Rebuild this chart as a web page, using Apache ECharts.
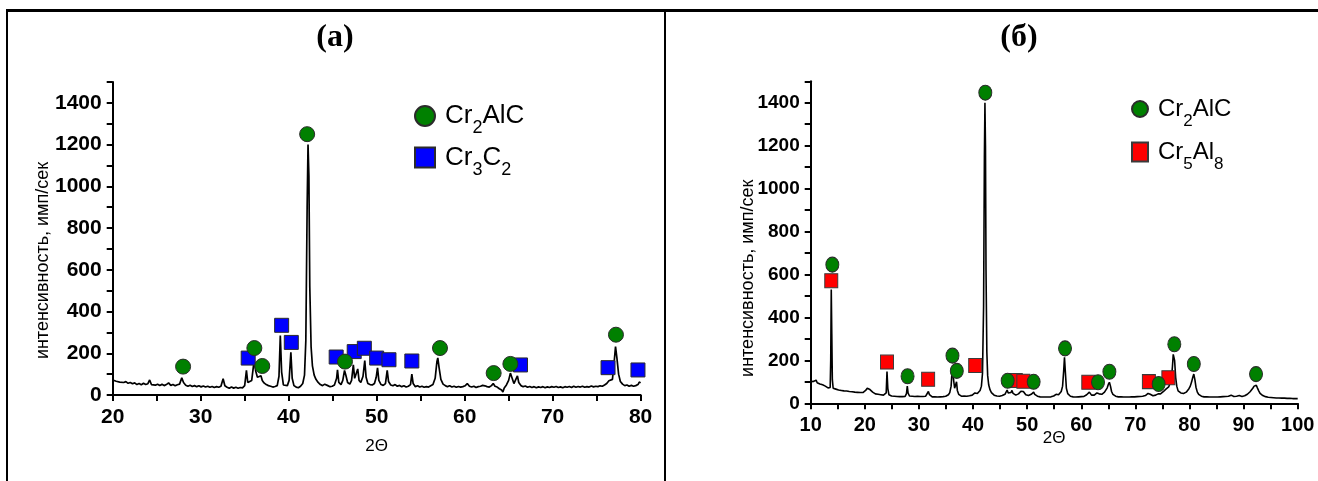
<!DOCTYPE html>
<html>
<head>
<meta charset="utf-8">
<script src="https://cdn.jsdelivr.net/npm/echarts@6/dist/echarts.min.js"></script>
<style>
  html, body { margin: 0; padding: 0; background: #fff; }
  #chart { width: 1318px; height: 481px; }
</style>
</head>
<body>
<div id="chart"></div>
<script>
// диффрактограмма (а): 2θ, интенсивность
const scanA = [
  [20.0,72],[20.2,80],[20.4,66],[20.6,74],[20.8,62],[21.0,68],[21.25,60],[21.5,64],[21.75,56],[22.0,60],
  [22.25,54],[22.5,58],[22.75,50],[23.0,55],[23.25,49],[23.5,56],[23.75,50],[24.0,54],[24.2,72],[24.4,50],
  [24.6,55],[24.85,47],[25.1,52],[25.35,46],[25.6,51],[25.85,45],[26.1,50],[26.35,58],[26.6,46],[26.85,50],
  [27.1,44],[27.35,49],[27.6,52],[27.85,82],[28.05,60],[28.3,47],[28.55,42],[28.8,47],[29.05,41],[29.3,45],
  [29.55,40],[29.8,44],[30.05,39],[30.3,43],[30.55,38],[30.8,42],[31.05,37],[31.3,41],[31.55,36],[31.8,40],
  [32.05,37],[32.3,42],[32.55,78],[32.75,44],[33.0,37],[33.25,32],[33.5,38],[33.75,33],[34.0,37],[34.25,32],
  [34.5,36],[34.75,34],[35.0,45],[35.2,118],[35.35,60],[35.55,52],[35.8,70],[36.0,140],[36.1,160],[36.25,115],
  [36.45,85],[36.65,78],[36.85,92],[37.0,70],[37.2,58],[37.45,50],[37.7,45],[37.95,42],[38.2,38],[38.45,41],
  [38.7,45],[38.9,90],[39.05,285],[39.2,110],[39.4,48],[39.6,40],[39.85,45],[40.05,70],[40.25,205],[40.4,80],
  [40.6,45],[40.85,38],[41.1,35],[41.35,42],[41.6,55],[41.8,95],[41.95,260],[42.1,900],[42.2,1200],[42.3,1050],
  [42.4,520],[42.55,230],[42.7,140],[42.9,95],[43.1,75],[43.35,60],[43.6,50],[43.85,45],[44.1,52],[44.25,60],
  [44.45,45],[44.7,40],[44.95,42],[45.2,48],[45.45,80],[45.55,120],[45.7,60],[45.95,50],[46.15,70],[46.35,118],
  [46.5,95],[46.7,60],[46.95,52],[47.15,70],[47.35,145],[47.5,80],[47.7,75],[47.85,125],[48.0,70],[48.2,60],
  [48.45,90],[48.65,165],[48.8,85],[49.0,55],[49.25,50],[49.5,48],[49.75,55],[49.95,85],[50.1,130],[50.25,70],
  [50.5,50],[50.75,46],[51.0,55],[51.2,118],[51.35,65],[51.6,48],[51.85,44],[52.1,50],[52.35,42],[52.6,46],
  [52.85,40],[53.1,44],[53.35,38],[53.6,42],[53.85,50],[54.0,100],[54.15,55],[54.4,40],[54.65,44],[54.9,38],
  [55.15,42],[55.4,37],[55.65,40],[55.9,38],[56.15,44],[56.4,50],[56.65,80],[56.85,160],[56.95,178],[57.1,130],
  [57.3,75],[57.55,52],[57.8,45],[58.05,40],[58.3,44],[58.55,38],[58.8,42],[59.05,37],[59.3,41],[59.55,38],
  [59.8,40],[60.05,44],[60.3,55],[60.55,42],[60.8,38],[61.05,42],[61.3,36],[61.55,40],[61.8,42],[62.05,46],
  [62.3,44],[62.55,40],[62.8,38],[63.05,45],[63.25,55],[63.45,42],[63.7,38],[63.95,30],[64.2,24],[64.35,14],
  [64.5,34],[64.75,48],[65.0,70],[65.2,105],[65.4,80],[65.6,55],[65.8,62],[66.0,92],[66.15,60],[66.4,45],
  [66.65,40],[66.9,43],[67.15,37],[67.4,41],[67.65,36],[67.9,40],[68.15,35],[68.4,39],[68.65,36],[68.9,40],
  [69.15,35],[69.4,39],[69.65,36],[69.9,40],[70.15,37],[70.4,41],[70.65,36],[70.9,39],[71.15,35],[71.4,40],
  [71.65,37],[71.9,41],[72.15,36],[72.4,42],[72.65,37],[72.9,41],[73.15,38],[73.4,42],[73.65,37],[73.9,40],
  [74.15,38],[74.4,43],[74.65,39],[74.9,42],[75.15,40],[75.4,44],[75.65,42],[75.9,48],[76.15,55],[76.4,68],
  [76.6,60],[76.8,75],[77.0,160],[77.15,232],[77.3,180],[77.5,100],[77.7,65],[77.95,52],[78.2,45],[78.45,48],
  [78.7,42],[78.95,46],[79.2,42],[79.45,45],[79.7,50],[79.85,62],[80.0,58]
]
// метки фаз (а)
const cr2alcA = [[28.0,136],[36.1,225],[37.0,139],[42.1,1250],[46.4,160],[57.2,225],[63.3,105],[65.2,149],[77.2,289]]
const cr3c2A = [[35.4,177],[39.2,334],[40.3,252],[45.4,182],[47.45,208],[48.6,224],[50.0,177],[51.4,169],[54.0,163],[66.35,144],[76.3,131],[79.7,120]]

// диффрактограмма (б)
const scanB = [
  [10.0,100],[10.25,96],[10.5,102],[10.75,98],[11.0,108],[11.2,96],[11.45,94],[11.7,90],[11.95,92],[12.2,86],
  [12.45,84],[12.7,80],[12.95,76],[13.2,72],[13.45,70],[13.6,74],[13.7,200],[13.8,530],[13.9,320],[14.0,110],
  [14.15,70],[14.4,62],[14.65,66],[14.9,60],[15.15,62],[15.4,58],[15.65,60],[15.9,56],[16.15,58],[16.4,54],
  [16.65,57],[16.9,53],[17.15,55],[17.4,52],[17.65,54],[17.9,50],[18.15,52],[18.4,49],[18.65,51],[18.9,48],
  [19.15,50],[19.4,47],[19.65,50],[19.9,54],[20.15,60],[20.45,70],[20.7,74],[20.95,64],[21.2,56],[21.45,52],
  [21.7,46],[21.95,44],[22.2,40],[22.45,42],[22.7,38],[22.95,40],[23.2,36],[23.45,38],[23.7,36],[23.95,48],
  [24.1,148],[24.25,70],[24.45,40],[24.7,36],[24.95,34],[25.2,36],[25.45,33],[25.7,35],[25.95,32],[26.2,34],
  [26.45,31],[26.7,33],[26.95,31],[27.2,34],[27.45,32],[27.7,45],[27.85,80],[28.0,48],[28.25,34],[28.5,31],
  [28.75,33],[29.0,30],[29.25,32],[29.5,30],[29.75,33],[30.0,30],[30.25,32],[30.5,29],[30.75,32],[31.0,30],
  [31.25,33],[31.5,36],[31.75,55],[31.95,40],[32.2,32],[32.45,30],[32.7,33],[32.95,30],[33.2,32],[33.45,29],
  [33.7,32],[33.95,30],[34.2,33],[34.45,31],[34.7,34],[34.95,33],[35.2,36],[35.45,40],[35.7,50],[35.95,80],
  [36.1,140],[36.25,160],[36.4,110],[36.6,70],[36.8,75],[36.95,100],[37.1,60],[37.35,42],[37.6,36],[37.85,33],
  [38.1,32],[38.35,34],[38.6,31],[38.85,33],[39.1,32],[39.35,35],[39.6,34],[39.85,38],[40.1,42],[40.35,48],
  [40.55,52],[40.8,46],[41.05,50],[41.3,60],[41.55,80],[41.75,140],[41.95,450],[42.1,1150],[42.2,1400],[42.3,1200],
  [42.4,620],[42.55,240],[42.7,130],[42.9,85],[43.15,62],[43.4,50],[43.65,43],[43.9,38],[44.15,36],[44.4,34],
  [44.65,35],[44.9,33],[45.15,34],[45.4,36],[45.65,38],[45.9,42],[46.1,50],[46.3,62],[46.5,48],[46.75,44],
  [47.0,50],[47.2,60],[47.4,46],[47.65,40],[47.9,38],[48.15,40],[48.4,44],[48.65,52],[48.85,56],[49.05,48],
  [49.3,55],[49.5,46],[49.75,40],[50.0,37],[50.25,36],[50.5,38],[50.75,42],[51.0,46],[51.2,52],[51.4,42],
  [51.65,36],[51.9,33],[52.15,31],[52.4,30],[52.65,31],[52.9,29],[53.15,31],[53.4,29],[53.65,30],[53.9,29],
  [54.15,31],[54.4,30],[54.65,32],[54.9,34],[55.15,38],[55.35,42],[55.55,36],[55.8,40],[56.05,45],[56.3,55],
  [56.55,80],[56.75,150],[56.9,214],[57.05,150],[57.25,70],[57.5,45],[57.75,37],[58.0,33],[58.25,31],[58.5,30],
  [58.75,31],[59.0,29],[59.25,31],[59.5,30],[59.75,32],[60.0,31],[60.25,33],[60.5,32],[60.75,36],[61.0,40],
  [61.25,44],[61.5,52],[61.7,45],[61.9,38],[62.15,36],[62.4,38],[62.65,42],[62.9,48],[63.1,54],[63.3,44],
  [63.55,40],[63.8,42],[64.05,46],[64.3,52],[64.55,60],[64.8,72],[65.0,88],[65.2,98],[65.4,80],[65.6,55],
  [65.85,42],[66.1,36],[66.35,33],[66.6,31],[66.85,30],[67.1,29],[67.35,30],[67.6,28],[67.85,29],[68.1,28],
  [68.35,29],[68.6,27],[68.85,29],[69.1,28],[69.35,30],[69.6,28],[69.85,30],[70.1,29],[70.35,31],[70.6,30],
  [70.85,32],[71.1,31],[71.35,33],[71.6,32],[71.85,36],[72.1,40],[72.35,46],[72.55,50],[72.75,42],[73.0,36],
  [73.25,35],[73.5,36],[73.75,38],[74.0,42],[74.2,44],[74.4,40],[74.65,44],[74.9,48],[75.15,54],[75.4,60],
  [75.65,66],[75.9,72],[76.15,76],[76.4,85],[76.65,110],[76.85,170],[77.0,228],[77.1,236],[77.25,200],[77.45,120],
  [77.65,80],[77.9,58],[78.15,50],[78.4,48],[78.65,44],[78.9,46],[79.15,48],[79.4,52],[79.65,58],[79.9,68],
  [80.15,80],[80.4,100],[80.6,120],[80.8,136],[81.0,110],[81.2,75],[81.45,52],[81.7,42],[81.95,36],[82.2,33],
  [82.45,31],[82.7,30],[82.95,29],[83.2,30],[83.45,28],[83.7,29],[83.95,27],[84.2,29],[84.45,28],[84.7,29],
  [84.95,27],[85.2,29],[85.45,28],[85.7,30],[85.95,29],[86.2,31],[86.45,30],[86.7,32],[86.95,31],[87.2,33],
  [87.45,36],[87.7,38],[87.95,35],[88.2,32],[88.45,31],[88.7,33],[88.95,32],[89.2,36],[89.45,34],[89.7,32],
  [89.95,33],[90.2,35],[90.45,38],[90.7,42],[90.95,48],[91.2,54],[91.45,62],[91.7,70],[91.95,80],[92.15,86],
  [92.35,84],[92.55,72],[92.8,58],[93.05,46],[93.3,40],[93.55,36],[93.8,33],[94.05,31],[94.3,30],[94.55,28],
  [94.8,29],[95.05,27],[95.3,28],[95.55,26],[95.8,27],[96.05,25],[96.3,27],[96.55,25],[96.8,26],[97.05,24],
  [97.3,26],[97.55,24],[97.8,25],[98.05,23],[98.3,25],[98.55,23],[98.8,24],[99.05,22],[99.3,24],[99.55,22],
  [99.8,23],[100.0,22]
]
const cr2alcB = [[14.0,646],[27.9,126],[36.2,222],[37.0,151],[42.27,1447],[46.4,105],[51.2,100],[57.0,256],[63.1,98],[65.2,147],[74.3,90],[77.2,275],[80.8,183],[92.3,136]]
const cr5al8B = [[13.8,571],[24.1,192],[31.7,112],[40.4,176],[47.9,106],[49.3,103],[61.3,98],[72.5,101],[76.1,119]]

const yTicks = [0, 200, 400, 600, 800, 1000, 1200, 1400]

const fontA = '"Liberation Sans", Arial, sans-serif'
const ellipse = 'path://M0,10a10,10 0 1,0 20,0a10,10 0 1,0 -20,0z'

const legendText = {
  circA: '{p|Cr}{s|2}{n|AlC}',
  sqA: '{p|Cr}{s|3}{n|C}{s|2}',
  circB: '{p|Cr}{s|2}{n|AlC}',
  sqB: '{p|Cr}{s|5}{n|Al}{s|8}',
}

let chart = echarts.init(document.getElementById('chart'), null, { renderer: 'canvas' })

function makeX(idx, min, max, size, margin, gap) {
  return {
    type: 'value', gridIndex: idx, min: min, max: max, interval: 5,
    axisLine: { onZero: false, lineStyle: { color: '#000', width: 2 } },
    axisTick: { length: 6, lineStyle: { color: '#000', width: 2 } },
    splitLine: { show: false },
    axisLabel: {
      color: '#000', fontFamily: fontA, fontWeight: 'bold', fontSize: size, margin: margin,
      formatter: (v) => (v % 10 === 0 ? String(v) : ''),
    },
    name: '2Θ', nameLocation: 'middle', nameGap: gap, nameMoveOverlap: false,
    nameTextStyle: { color: '#000', fontFamily: fontA, fontSize: 17 },
  }
}
function makeY(idx, size, nameGap, shift) {
  return {
    type: 'value', gridIndex: idx, min: 0, max: 1500, interval: 100,
    axisLine: { show: true, onZero: false, lineStyle: { color: '#000', width: 2 } },
    axisTick: { show: true, length: 6, lineStyle: { color: '#000', width: 2 } },
    splitLine: { show: false },
    axisLabel: {
      color: '#000', fontFamily: fontA, fontWeight: 'bold', fontSize: size, margin: 11,
      formatter: (v) => (yTicks.indexOf(v) >= 0 ? String(v) : ''),
    },
    name: 'интенсивность, имп/сек', nameLocation: 'middle', nameRotate: 90, nameGap: nameGap,
    nameMoveOverlap: false,
    nameTextStyle: { color: '#000', fontFamily: fontA, fontSize: 18, padding: [0, shift, 0, 0] },
  }
}
function richFor(big, small, drop) {
  return {
    p: { fontFamily: fontA, fontSize: big, color: '#000', padding: [0, 0, 0, 5] },
    n: { fontFamily: fontA, fontSize: big, color: '#000' },
    s: { fontFamily: fontA, fontSize: small, color: '#000', padding: [drop, 0, 0, 0] },
  }
}

const option = {
  animation: false,
  backgroundColor: '#fff',
  grid: [
    { left: 112.7, right: 677.4, top: 82, bottom: 86 },
    { left: 810.7, right: 20.3, top: 81.3, bottom: 77.7 },
  ],
  xAxis: [makeX(0, 20, 80, 21, 12, 43), makeX(1, 10, 100, 20, 12, 27)],
  yAxis: [makeY(0, 21, 61, 44), makeY(1, 19, 54, 72)],
  legend: [
    {
      orient: 'vertical', left: 414, top: 103, padding: 0, itemWidth: 20, itemHeight: 20, itemGap: 7,
      selectedMode: false, data: ['circA', 'sqA'],
      formatter: (n) => legendText[n],
      textStyle: { rich: richFor(26, 18, 25) },
    },
    {
      orient: 'vertical', left: 1131, top: 97, padding: 0, itemWidth: 16, itemHeight: 19, itemGap: 10,
      selectedMode: false, data: ['circB', 'sqB'],
      formatter: (n) => legendText[n],
      textStyle: { rich: richFor(24, 17, 25) },
    },
  ],
  series: [
    {
      type: 'line', xAxisIndex: 0, yAxisIndex: 0, data: scanA, showSymbol: false, silent: true,
      lineStyle: { color: '#000', width: 1.7 }, z: 2,
    },
    {
      name: 'circA', type: 'scatter', xAxisIndex: 0, yAxisIndex: 0, data: cr2alcA,
      symbol: 'circle', symbolSize: 15, z: 5,
      itemStyle: { color: '#008000', borderColor: '#2b2b2b', borderWidth: 1, opacity: 1 },
    },
    {
      name: 'sqA', type: 'scatter', xAxisIndex: 0, yAxisIndex: 0, data: cr3c2A,
      symbol: 'rect', symbolSize: 14, z: 4,
      itemStyle: { color: '#0000ff', borderColor: '#2b2b2b', borderWidth: 1, opacity: 1 },
    },
    {
      type: 'line', xAxisIndex: 1, yAxisIndex: 1, data: scanB, showSymbol: false, silent: true,
      lineStyle: { color: '#000', width: 1.6 }, z: 2,
    },
    {
      name: 'circB', type: 'scatter', xAxisIndex: 1, yAxisIndex: 1, data: cr2alcB,
      symbol: ellipse, symbolSize: [13, 15], z: 5,
      itemStyle: { color: '#008000', borderColor: '#2b2b2b', borderWidth: 1, opacity: 1 },
    },
    {
      name: 'sqB', type: 'scatter', xAxisIndex: 1, yAxisIndex: 1, data: cr5al8B,
      symbol: 'rect', symbolSize: [13, 14], z: 4,
      itemStyle: { color: '#ff0000', borderColor: '#3a3a3a', borderWidth: 1, opacity: 1 },
    },
  ],
  graphic: [
    // рамка таблицы
    { type: 'rect', shape: { x: 6, y: 9, width: 1312, height: 3 }, style: { fill: '#000' }, silent: true },
    { type: 'rect', shape: { x: 6, y: 9, width: 2, height: 472 }, style: { fill: '#000' }, silent: true },
    { type: 'rect', shape: { x: 664, y: 9, width: 2, height: 472 }, style: { fill: '#000' }, silent: true },
    {
      type: 'text', silent: true,
      style: { x: 335, y: 38, text: '(a)', fill: '#000', align: 'center', verticalAlign: 'middle',
        font: 'bold 32px "Liberation Serif", "Times New Roman", serif' },
    },
    {
      type: 'text', silent: true,
      style: { x: 1019, y: 38, text: '(б)', fill: '#000', align: 'center', verticalAlign: 'middle',
        font: 'bold 32px "Liberation Serif", "Times New Roman", serif' },
    },
  ],
}

chart.setOption(option)
</script>
</body>
</html>
